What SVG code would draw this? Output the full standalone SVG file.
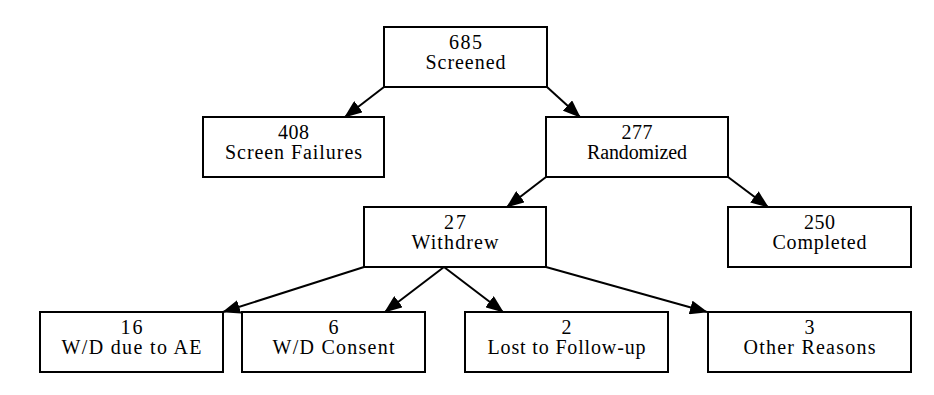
<svg xmlns="http://www.w3.org/2000/svg" width="934" height="395" viewBox="0 0 934 395">
<style>
.box{fill:#fff;stroke:#000;stroke-width:2}
text{font-family:'Liberation Serif','DejaVu Serif',serif;font-size:20px;fill:#000;text-anchor:middle}
.e{stroke:#000;stroke-width:2;fill:none;marker-end:url(#ah)}
</style>
<defs>
<marker id="ah" viewBox="0 0 18 14" refX="17" refY="7" markerWidth="18" markerHeight="14" markerUnits="userSpaceOnUse" orient="auto">
<path d="M0,0 L18,7 L0,14 z" fill="#000"/>
</marker>
</defs>
<rect width="934" height="395" fill="#fff"/>
<g id="edges">
<line class="e" x1="384" y1="87" x2="345" y2="117"/>
<line class="e" x1="547" y1="87" x2="580" y2="117"/>
<line class="e" x1="546" y1="177" x2="507" y2="207"/>
<line class="e" x1="728" y1="177" x2="768" y2="207"/>
<line class="e" x1="364" y1="267" x2="223" y2="312"/>
<line class="e" x1="444" y1="267" x2="385" y2="312"/>
<line class="e" x1="444" y1="267" x2="503" y2="312"/>
<line class="e" x1="546" y1="267" x2="707" y2="312"/>
</g>
<g id="screened">
<rect class="box" x="384" y="27" width="163" height="60"/>
<text x="465.5" y="49" textLength="33" lengthAdjust="spacing">685</text>
<text x="465.5" y="69" textLength="80" lengthAdjust="spacing">Screened</text>
</g>
<g id="screenfail">
<rect class="box" x="203" y="117" width="181" height="60"/>
<text x="293.5" y="139" textLength="31" lengthAdjust="spacing">408</text>
<text x="293.5" y="159" textLength="137" lengthAdjust="spacing">Screen Failures</text>
</g>
<g id="randomized">
<rect class="box" x="546" y="117" width="182" height="60"/>
<text x="637" y="139" textLength="31" lengthAdjust="spacing">277</text>
<text x="637" y="159" textLength="100" lengthAdjust="spacing">Randomized</text>
</g>
<g id="withdrew">
<rect class="box" x="364" y="207" width="182" height="60"/>
<text x="455" y="229" textLength="22" lengthAdjust="spacing">27</text>
<text x="455" y="249" textLength="87" lengthAdjust="spacing">Withdrew</text>
</g>
<g id="completed">
<rect class="box" x="728" y="207" width="183" height="60"/>
<text x="819.5" y="229" textLength="31" lengthAdjust="spacing">250</text>
<text x="819.5" y="249" textLength="94" lengthAdjust="spacing">Completed</text>
</g>
<g id="ae">
<rect class="box" x="40" y="312" width="183" height="60"/>
<text x="131.5" y="334" textLength="22" lengthAdjust="spacing">16</text>
<text x="131.5" y="354" textLength="140" lengthAdjust="spacing">W/D due to AE</text>
</g>
<g id="consent">
<rect class="box" x="242" y="312" width="183" height="60"/>
<text x="333.5" y="334">6</text>
<text x="333.5" y="354" textLength="122" lengthAdjust="spacing">W/D Consent</text>
</g>
<g id="lost">
<rect class="box" x="465" y="312" width="203" height="60"/>
<text x="566.5" y="334">2</text>
<text x="566.5" y="354" textLength="158" lengthAdjust="spacing">Lost to Follow-up</text>
</g>
<g id="other">
<rect class="box" x="708" y="312" width="203" height="60"/>
<text x="809.5" y="334">3</text>
<text x="809.5" y="354" textLength="132" lengthAdjust="spacing">Other Reasons</text>
</g>
</svg>
